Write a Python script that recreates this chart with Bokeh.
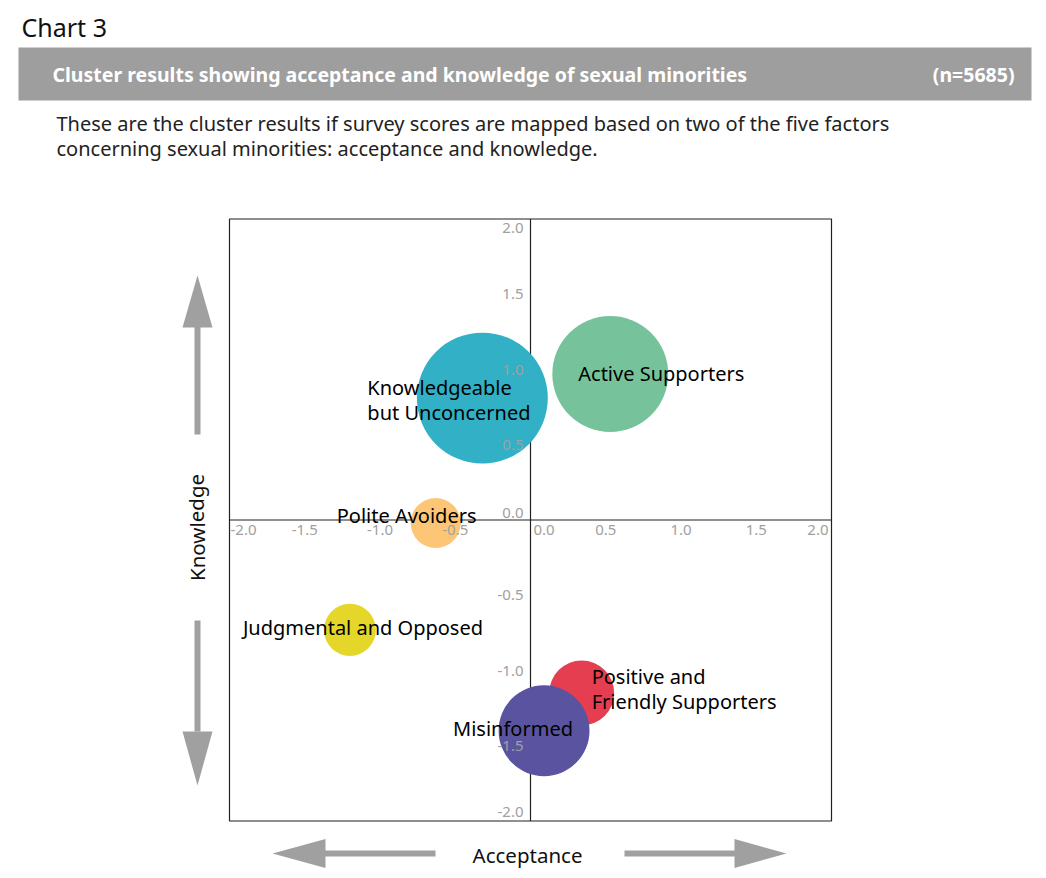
from bokeh.plotting import figure
from bokeh.models import Range1d, ColumnDataSource
from bokeh.core.properties import value
from bokeh.embed import file_html
from bokeh.resources import INLINE

# ---------------- data ----------------
clusters = ["Knowledgeable\nbut Unconcerned", "Active Supporters", "Polite Avoiders",
            "Judgmental and Opposed", "Positive and\nFriendly  Supporters", "Misinformed"]
acceptance = [-0.32, 0.53, -0.63, -1.20, 0.34, 0.09]
knowledge = [0.81, 0.97, -0.02, -0.73, -1.15, -1.40]
bubble_size = [0.435, 0.385, 0.166, 0.173, 0.216, 0.302]
colors = ["#31B0C6", "#76C39B", "#FDC676", "#E4D72A", "#E63E51", "#5A54A0"]

ticks = [-2.0, -1.5, -1.0, -0.5, 0.0, 0.5, 1.0, 1.5, 2.0]
tick_labels = [f"{t:.1f}" for t in ticks]

chart_label = "Chart 3"
title = "Cluster results showing acceptance and knowledge of sexual minorities"
sample = "(n=5685)"
subtitle = ["These are the cluster results if survey scores are mapped based on two of the five factors",
            "concerning sexual minorities: acceptance and knowledge."]
x_title = "Acceptance"
y_title = "Knowledge"

# ---------------- layout helpers (page pixels -> data units) ----------------
W, H = 1040, 874
S = 150.5              # pixels per data unit
CXP, CYP = 530, 519.5  # page position of the (0, 0) point
M = 0                  # canvas offset on the page


def X(px):
    return (px - CXP) / S


def Y(py):
    return (CYP - py) / S


FONT = value("Noto Sans")

p = figure(width=W, height=H, output_backend="svg", toolbar_location=None,
           x_range=Range1d(X(M), X(M + W)), y_range=Range1d(Y(M + H), Y(M)),
           x_axis_type=None, y_axis_type=None, min_border=0,
           background_fill_color="white", border_fill_color="white")
p.outline_line_color = None
p.grid.visible = False

# ---------------- header ----------------
p.text(x=[X(21)], y=[Y(26)], text=[chart_label], text_font=FONT, text_font_size="25px",
       text_color="#111111", text_baseline="middle", text_align="left")
p.quad(left=[X(18)], right=[X(1031)], top=[Y(47)], bottom=[Y(100)],
       fill_color="#9E9E9E", line_color=None)
p.text(x=[X(52)], y=[Y(74)], text=[title], text_font=FONT, text_font_size="19.5px",
       text_font_style="bold", text_color="white", text_baseline="middle", text_align="left")
p.text(x=[X(1014)], y=[Y(74)], text=[sample], text_font=FONT, text_font_size="19.5px",
       text_font_style="bold", text_color="white", text_baseline="middle", text_align="right")
p.text(x=[X(56), X(56)], y=[Y(123), Y(148)], text=subtitle, text_font=FONT,
       text_font_size="20px", text_color="#222222", text_baseline="middle", text_align="left")

# ---------------- chart frame & crossing axes ----------------
LIM = ticks[-1]
p.quad(left=[-LIM], right=[LIM], bottom=[-LIM], top=[LIM], fill_color=None,
       line_color="#231F20", line_width=1.2)
p.segment(x0=[-LIM, 0], y0=[0, -LIM], x1=[LIM, 0], y1=[0, LIM],
          line_color="#231F20", line_width=1.2)

# ---------------- bubbles ----------------
src = ColumnDataSource(dict(x=acceptance, y=knowledge, r=bubble_size, c=colors, name=clusters))
p.circle(x="x", y="y", radius="r", fill_color="c", line_color=None, source=src)

# ---------------- tick labels ----------------
xt = ColumnDataSource(dict(
    x=ticks, y=[0] * len(ticks), text=tick_labels,
    align=["left" if t in (ticks[0], 0.0) else ("right" if t == ticks[-1] else "center") for t in ticks],
    dx=[1 if t == ticks[0] else (3 if t == 0.0 else (-3 if t == ticks[-1] else 0)) for t in ticks],
))
p.text(x="x", y="y", text="text", text_align="align", x_offset="dx", y_offset=5,
       text_baseline="top", text_font=FONT, text_font_size="15px", text_color="#A0A0A0", source=xt)
yt = ColumnDataSource(dict(
    x=[0] * len(ticks), y=ticks, text=tick_labels,
    dy=[-9 if t == ticks[0] else (9 if t == ticks[-1] else (-7 if t == 0.0 else 0)) for t in ticks],
))
p.text(x="x", y="y", text="text", text_align="right", x_offset=-7, y_offset="dy",
       text_baseline="middle", text_font=FONT, text_font_size="15px", text_color="#A0A0A0", source=yt)

# ---------------- bubble labels ----------------
label_dx = [-115, -32, -99, -107, 10, -91]
label_dy = [2, -1, -8, -2, -4, -2]
lab = ColumnDataSource(dict(x=acceptance, y=knowledge, text=clusters, dx=label_dx, dy=label_dy))
p.text(x="x", y="y", text="text", x_offset="dx", y_offset="dy", text_align="left",
       text_baseline="middle", text_font=FONT, text_font_size="20px", text_color="black",
       text_line_height=0.9, source=lab)

# ---------------- axis titles & arrows ----------------
p.text(x=[X(527)], y=[Y(854)], text=[x_title], text_font=FONT, text_font_size="20.5px",
       text_color="#111111", text_align="center", text_baseline="middle")
p.text(x=[X(196)], y=[Y(527)], text=[y_title], text_font=FONT, text_font_size="20.5px",
       text_color="#111111", text_align="center", text_baseline="middle", angle=1.5708)

AC = "#A0A0A0"
p.segment(x0=[X(322), X(624), X(197), X(197)], y0=[Y(853), Y(853), Y(326), Y(620)],
          x1=[X(435), X(737), X(197), X(197)], y1=[Y(853), Y(853), Y(434), Y(731)],
          line_color=AC, line_width=6)
p.patches(
    xs=[[X(272), X(325), X(325)], [X(786), X(734), X(734)],
        [X(197), X(182), X(212)], [X(197), X(182), X(212)]],
    ys=[[Y(853), Y(838.5), Y(867.5)], [Y(853), Y(838.5), Y(867.5)],
        [Y(275), Y(327), Y(327)], [Y(785), Y(731), Y(731)]],
    fill_color=AC, line_color=None)

open("out.html", "w").write(file_html(p, INLINE))
